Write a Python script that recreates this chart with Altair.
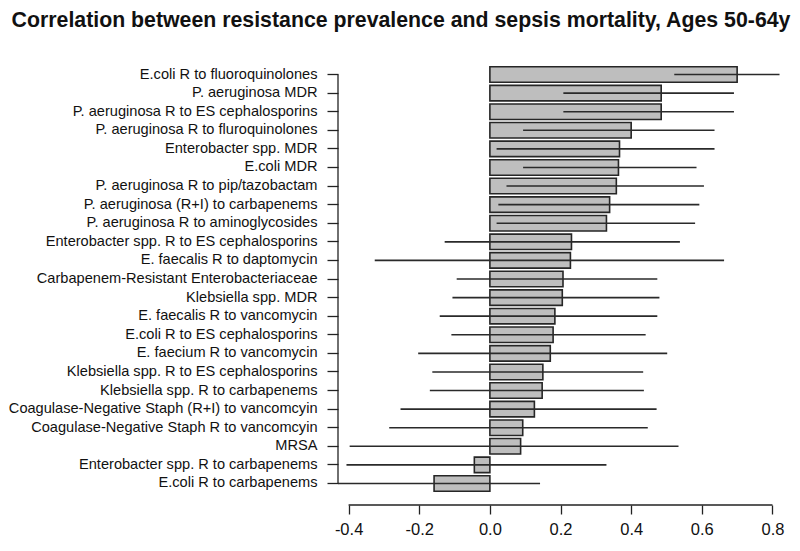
import altair as alt
import pandas as pd

categories = [
    "E.coli R to fluoroquinolones",
    "P. aeruginosa MDR",
    "P. aeruginosa R to ES cephalosporins",
    "P. aeruginosa R to fluroquinolones",
    "Enterobacter spp. MDR",
    "E.coli MDR",
    "P. aeruginosa R to pip/tazobactam",
    "P. aeruginosa (R+I) to carbapenems",
    "P. aeruginosa R to aminoglycosides",
    "Enterobacter spp. R to ES cephalosporins",
    "E. faecalis R to daptomycin",
    "Carbapenem-Resistant Enterobacteriaceae",
    "Klebsiella spp. MDR",
    "E. faecalis R to vancomycin",
    "E.coli R to ES cephalosporins",
    "E. faecium R to vancomycin",
    "Klebsiella spp. R to ES cephalosporins",
    "Klebsiella spp. R to carbapenems",
    "Coagulase-Negative Staph (R+I) to vancomcyin",
    "Coagulase-Negative Staph R to vancomcyin",
    "MRSA",
    "Enterobacter spp. R to carbapenems",
    "E.coli R to carbapenems",
]
correlation = [0.700, 0.485, 0.485, 0.400, 0.367, 0.364, 0.358, 0.339, 0.330,
               0.231, 0.228, 0.207, 0.205, 0.184, 0.179, 0.171, 0.150, 0.148,
               0.126, 0.093, 0.087, -0.044, -0.158]
ci_low = [0.522, 0.208, 0.208, 0.094, 0.019, 0.094, 0.047, 0.024, 0.019,
          -0.128, -0.326, -0.094, -0.106, -0.142, -0.109, -0.203, -0.163, -0.170,
          -0.253, -0.285, -0.397, -0.406, -0.460]
ci_high = [0.820, 0.691, 0.691, 0.636, 0.636, 0.585, 0.606, 0.593, 0.581,
           0.538, 0.663, 0.474, 0.480, 0.474, 0.441, 0.502, 0.434, 0.436,
           0.472, 0.447, 0.534, 0.330, 0.142]
x_ticks = [-0.4, -0.2, 0.0, 0.2, 0.4, 0.6, 0.8]

df = pd.DataFrame({"cat": categories, "r": correlation, "lo": ci_low, "hi": ci_high})
axis_df = pd.DataFrame({"c1": [categories[0]], "c2": [categories[-1]]})

W, H = 450, 455
FONT = "Liberation Sans"

xscale = alt.Scale(domain=[-0.43, 0.844], nice=False, zero=False)
yscale = alt.Scale(domain=categories, paddingInner=0.167, paddingOuter=0.904,
                   range=[0, 458])

base = alt.Chart(df)

bars = base.mark_bar(fill="#bebebe", stroke="#262626", strokeWidth=1.6).encode(
    y=alt.Y("cat:N", scale=yscale, sort=categories,
            axis=alt.Axis(title=None, domain=False, tickSize=11, tickWidth=1.3,
                          tickColor="#222", labelFontSize=14.6, labelFont=FONT,
                          labelColor="#111", labelPadding=10, labelLimit=500)),
    x=alt.X("r:Q", scale=xscale,
            axis=alt.Axis(title=None, values=x_ticks, grid=False, domain=False,
                          tickSize=9, tickWidth=1.3, tickColor="#222",
                          labelFontSize=16.5, labelFont=FONT, labelColor="#111",
                          labelPadding=7,
                          labelExpr="replace(format(datum.value, '.1f'), '\u2212', '-')")),
    x2=alt.X2(datum=0),
)

errs = base.mark_rule(color="#2a2a2a", strokeWidth=1.6, clip=True).encode(
    y=alt.Y("cat:N", scale=yscale, sort=categories),
    x=alt.X("lo:Q", scale=xscale),
    x2="hi:Q",
)

yline = alt.Chart(axis_df).mark_rule(color="#222", strokeWidth=1.3).encode(
    y=alt.Y("c1:N", scale=yscale, sort=categories),
    y2="c2:N",
    x=alt.value(0),
)

xline = alt.Chart(axis_df).mark_rule(color="#222", strokeWidth=1.3).encode(
    x=alt.X(datum=x_ticks[0], scale=xscale),
    x2=alt.X2(datum=x_ticks[-1]),
    y=alt.value(H),
)

chart = alt.layer(bars, errs, yline, xline).properties(
    width=W, height=H,
    title=alt.TitleParams(
        "Correlation between resistance prevalence and sepsis mortality, Ages 50-64y",
        fontSize=21.3, fontWeight="bold", font=FONT, color="#111",
        anchor="middle", dx=-162, offset=2, baseline="alphabetic"),
    padding={"left": 330, "top": 42, "right": 4, "bottom": 34},
    autosize=alt.AutoSizeParams(type="none"),
).configure_view(stroke=None)

chart.save("out.html", embed_options={"renderer": "svg", "actions": False})
